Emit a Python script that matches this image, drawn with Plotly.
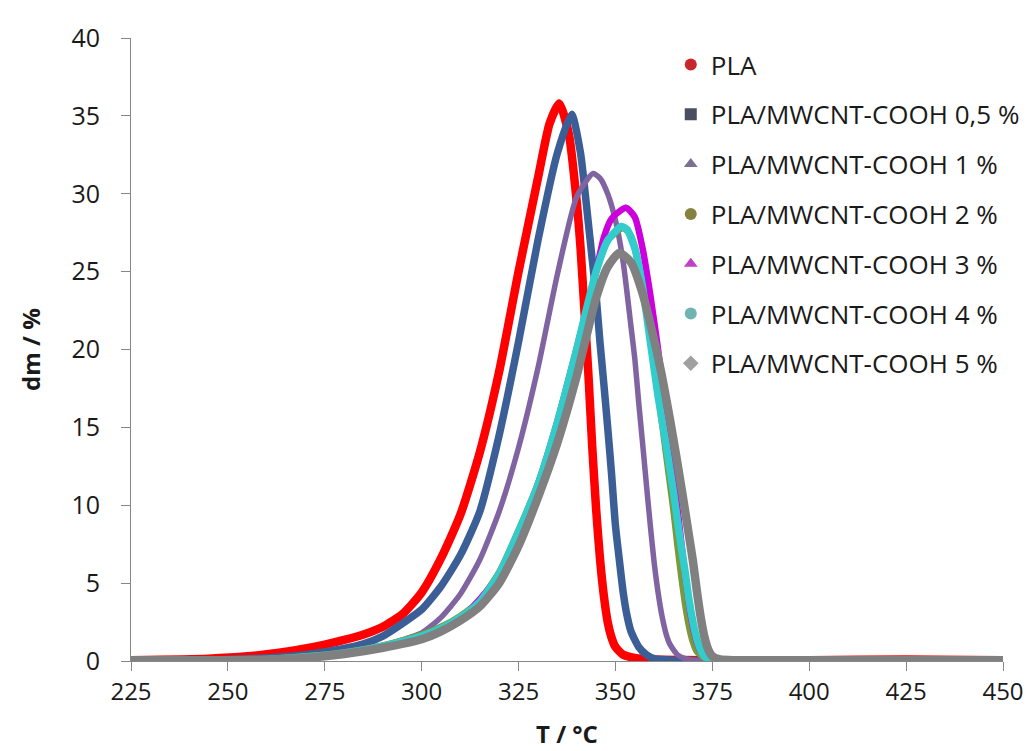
import plotly.graph_objects as go

# ---- data (T in °C, dm in %) ----
pla_T = [225, 245, 255, 265, 270, 275, 280, 285, 290, 295, 300, 305, 310, 315, 320, 325, 330, 333, 335.5,
         338, 340, 341, 342, 343, 344, 345, 346, 347, 348, 349, 350, 352, 355, 360, 380, 400, 425, 450]
pla_y = [0.05, 0.15, 0.3, 0.6, 0.8, 1.05, 1.35, 1.7, 2.2, 3.0, 4.4, 6.6, 9.4, 13.4, 18.6, 25.0, 31.0, 34.5, 35.8,
         33.8, 29.5, 26.5, 22.5, 18.5, 13.8, 9.8, 6.6, 4.2, 2.5, 1.5, 0.9, 0.4, 0.2, 0.1, 0.05, 0.05, 0.1, 0.05]

c05_T = [225, 250, 260, 270, 280, 285, 290, 295, 300, 305, 310, 315, 320, 325, 330, 335, 338.7,
         341, 342.5, 344, 345, 346, 347, 348, 349, 350, 351, 352, 353, 354, 356, 358, 360, 365, 400, 450]
c05_y = [0.05, 0.1, 0.2, 0.4, 0.8, 1.1, 1.6, 2.4, 3.3, 4.8, 6.8, 9.6, 14.5, 20.5, 27.0, 32.6, 35.1,
         32.6, 29.3, 25.8, 23.5, 20.5, 17.8, 15.0, 12.0, 8.7, 6.5, 4.4, 2.9, 1.9, 0.9, 0.4, 0.15, 0.05, 0.05, 0.05]

c1_T = [225, 260, 270, 280, 290, 295, 300, 305, 310, 315, 320, 325, 330, 335, 340, 344.2,
        346, 348, 350, 352, 354, 355, 356, 357, 358, 359, 360, 361, 362, 363, 364, 366, 368, 370, 400, 450]
c1_y = [0.05, 0.15, 0.3, 0.6, 1.0, 1.35, 1.8, 2.8, 4.3, 6.5, 9.6, 13.7, 18.8, 24.8, 29.8, 31.3,
        31.0, 30.0, 28.3, 25.6, 21.5, 19.4, 16.6, 14.0, 11.3, 8.7, 6.3, 4.4, 2.9, 1.8, 1.1, 0.4, 0.15, 0.05, 0.05, 0.05]

c2_T = [225, 260, 270, 280, 290, 300, 305, 310, 315, 320, 325, 330, 335, 340, 345, 348, 352,
        354, 356, 358, 360, 362, 364, 365, 366, 367, 368, 369, 370, 371, 373, 375, 400, 450]
c2_y = [0.05, 0.12, 0.3, 0.55, 1.0, 1.7, 2.2, 2.9, 3.9, 5.7, 8.4, 11.4, 15.4, 20.1, 25.0, 27.0, 27.8,
        27.3, 25.5, 22.5, 19.0, 15.3, 11.5, 9.6, 7.4, 5.4, 3.6, 2.2, 1.2, 0.6, 0.2, 0.1, 0.05, 0.05]

c3_T = [225, 260, 270, 280, 290, 300, 310, 320, 325, 330, 335, 340, 345, 347, 349, 352.7,
        355, 357, 359, 361, 363, 365, 367, 368, 369, 370, 371, 372, 374, 400, 450]
c3_y = [0.05, 0.1, 0.25, 0.5, 0.9, 1.5, 2.7, 5.5, 8.2, 11.3, 15.3, 20.0, 25.0, 27.2, 28.4, 29.1,
        28.5, 26.5, 23.5, 20.0, 16.0, 12.0, 7.6, 5.5, 3.6, 2.2, 1.2, 0.6, 0.2, 0.05, 0.05]

c4_T = [225, 260, 270, 280, 290, 300, 305, 310, 315, 320, 325, 330, 335, 340, 345, 348, 351.5,
        353, 355, 357, 359, 361, 363, 365, 366, 367, 368, 369, 370, 371, 372, 373, 375, 400, 450]
c4_y = [0.05, 0.1, 0.25, 0.5, 0.95, 1.6, 2.1, 2.8, 3.8, 5.6, 8.3, 11.3, 15.3, 20.0, 25.0, 27.0, 27.9,
        27.7, 26.5, 24.0, 20.5, 17.0, 14.0, 10.8, 9.0, 7.3, 5.7, 3.9, 2.5, 1.4, 0.7, 0.3, 0.1, 0.05, 0.05]

c5_T = [225, 250, 270, 280, 290, 300, 305, 310, 315, 320, 325, 330, 335, 340, 345, 348, 351,
        354, 357, 360, 362, 364, 366, 368, 369, 370, 371, 372, 373, 374, 375, 377, 400, 425, 450]
c5_y = [0.05, 0.05, 0.2, 0.45, 0.85, 1.4, 1.9, 2.6, 3.5, 5.0, 7.4, 10.5, 14.0, 18.3, 23.3, 25.3, 26.2,
        25.6, 23.6, 20.6, 18.3, 15.6, 12.7, 9.6, 8.0, 6.4, 4.5, 2.8, 1.5, 0.7, 0.3, 0.1, 0.05, 0.05, 0.05]

names = ["PLA", "PLA/MWCNT-COOH 0,5 %", "PLA/MWCNT-COOH 1 %", "PLA/MWCNT-COOH 2 %",
         "PLA/MWCNT-COOH 3 %", "PLA/MWCNT-COOH 4 %", "PLA/MWCNT-COOH 5 %"]
x_ticks = [225, 250, 275, 300, 325, 350, 375, 400, 425, 450]
y_ticks = [0, 5, 10, 15, 20, 25, 30, 35, 40]

series = [(pla_T, pla_y), (c05_T, c05_y), (c1_T, c1_y), (c2_T, c2_y),
          (c3_T, c3_y), (c4_T, c4_y), (c5_T, c5_y)]
line_colors = ["#FF0000", "#3C5E96", "#8064A2", "#7A9A3A", "#CC00DD", "#33CCCC", "#808080"]
line_widths = [8.5, 7.5, 5.5, 6.5, 6.5, 7.5, 8.5]
leg_colors = ["#C8282C", "#4A4E60", "#7A7090", "#85823F", "#C040C8", "#6FB4B0", "#A0A0A0"]
leg_symbols = ["circle", "square", "triangle-up", "circle", "triangle-up", "circle", "diamond"]

FONT = "Open Sans"
fig = go.Figure()
for i, ((T, y), nm) in enumerate(zip(series, names)):
    fig.add_trace(go.Scatter(x=T, y=y, mode="lines", name=nm, showlegend=False,
                             legendgroup=f"g{i}",
                             line=dict(color=line_colors[i], width=line_widths[i],
                                       shape="spline", smoothing=0.6)))
for i, nm in enumerate(names):
    fig.add_trace(go.Scatter(x=[None], y=[None], mode="markers", name=nm, legendgroup=f"g{i}",
                             marker=dict(symbol=leg_symbols[i], color=leg_colors[i], size=6)))

fig.update_layout(
    width=1033, height=751,
    margin=dict(l=123, r=38, t=26, b=98),
    paper_bgcolor="white", plot_bgcolor="white",
    font=dict(family=FONT, size=22, color="#1a1a1a"),
    showlegend=True,
    legend=dict(x=0.619, y=0.995, xanchor="left", yanchor="top",
                font=dict(family=FONT, size=26, color="#1a1a1a"),
                tracegroupgap=13, bgcolor="rgba(0,0,0,0)", itemsizing="constant"),
)
fig.update_xaxes(range=[225, 450], tickvals=x_ticks, ticktext=[str(v) for v in x_ticks],
                 showgrid=False, zeroline=False, showline=True, linecolor="#868686", linewidth=1,
                 ticks="outside", ticklen=9, tickcolor="#868686",
                 tickfont=dict(family=FONT, size=24, color="#1a1a1a"),
                 title=dict(text="<b>T / °C</b>", font=dict(family=FONT, size=24), standoff=20))
fig.update_yaxes(range=[0, 40], tickvals=y_ticks, ticktext=[str(v) for v in y_ticks],
                 showgrid=False, zeroline=False, showline=True, linecolor="#868686", linewidth=1,
                 ticks="outside", ticklen=9, tickcolor="#868686",
                 tickfont=dict(family=FONT, size=25, color="#1a1a1a"), ticklabelstandoff=16,
                 title=dict(text="<b>dm / %</b>", font=dict(family=FONT, size=24), standoff=24))

fig.write_html("out.html")
